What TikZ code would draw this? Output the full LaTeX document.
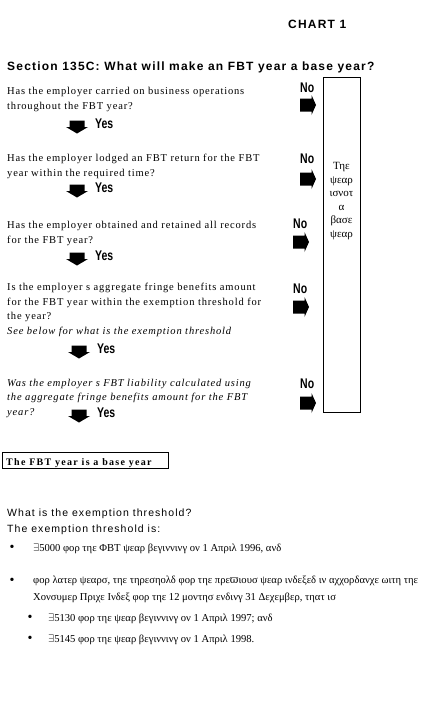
\documentclass[tikz,border=0pt]{standalone}
\usepackage{fontspec}
\setmainfont{Liberation Serif}
\newfontfamily\qfont[LetterSpace=8]{Liberation Serif}
\newfontfamily\hfont[LetterSpace=10]{Liberation Sans}
\newfontfamily\nfont[FakeStretch=0.75]{Liberation Sans}
\newfontfamily\gfont{Liberation Serif}
\newfontfamily\dvfont{DejaVu Serif}
\usetikzlibrary{positioning}

\begin{document}
\begin{tikzpicture}[x=1pt,y=-1pt,
  txt/.style={anchor=base west,inner sep=0pt,align=left},
  q/.style={txt,font=\qfont\fontsize{10.5}{14.5}\selectfont},
  hd/.style={txt,font=\hfont\bfseries\fontsize{12}{13}\selectfont},
  yn/.style={anchor=base west,inner sep=0pt,font=\nfont\bfseries\fontsize{14}{14}\selectfont},
  yesarrow/.pic={\fill (-7.5,-6.5) -- (7.5,-6.5) -- (7.5,0) -- (11,0) -- (0,6.5) -- (-11,0) -- (-7.5,0) -- cycle;},
  noarrow/.pic={\fill (-8,-6.5) -- (3.5,-6.5) -- (3.5,-10) -- (8,0) -- (3.5,10) -- (3.5,6.5) -- (-8,6.5) -- cycle;},
  gr/.style={txt,font=\gfont\fontsize{10.6}{16.5}\selectfont},
  dot/.style={inner sep=0pt,font=\fontsize{14}{14}\selectfont}]
\useasboundingbox (0,0) rectangle (423,702);
% headings
\node[hd] (chart) at (288,28) {CHART 1};
\node[hd] (title) at (7,70) {Section 135C: What will make an FBT year a base year?};
% questions
\node[q] (q1) at (7,109) {Has the employer carried on business operations\\throughout the FBT year?};
\node[q] (q2) at (7,176) {Has the employer lodged an FBT return for the FBT\\year within the required time?};
\node[q] (q3) at (7,243) {Has the employer obtained and retained all records\\for the FBT year?};
\node[q] (q4) at (7,334) {Is the employer s aggregate fringe benefits amount\\for the FBT year within the exemption threshold for\\the year?\\\itshape See below for what is the exemption threshold};
\node[q,font=\qfont\itshape\fontsize{10.5}{14.5}\selectfont] (q5) at (7,415) {Was the employer s FBT liability calculated using\\the aggregate fringe benefits amount for the FBT\\year?};
% yes arrows
\foreach \i/\x/\y in {1/77/127,2/77/191,3/77/259,4/79/352,5/79/416}{
  \pic (yes\i) at (\x,\y) {yesarrow};
  \node[yn] (yeslbl\i) at (\x+18,\y+1) {Yes};
}
% no arrows
\foreach \i/\x/\y/\ly in {1/300/105/92,2/300/179/163,3/293/242/228,4/293/307/293,5/300/403/388}{
  \pic (no\i) at (\x+8,\y) {noarrow};
  \node[yn] (nolbl\i) at (\x,\ly) {No};
}
\node[draw,line width=1pt,anchor=north west,minimum width=37pt,minimum height=335pt,inner sep=0pt] (notbase) at (323,77) {};
\node[font=\gfont\fontsize{11}{13.6}\selectfont,align=center,inner sep=0pt] (notbasetxt) at (341.5,201) {Τηε\\ψεαρ\\ισνοτ\\α\\βασε\\ψεαρ};
% result box
\node[draw,line width=.6pt,anchor=north west,minimum width=166pt,minimum height=16pt,inner sep=0pt] (basebox) at (2,452) {};
\draw[line width=1.6pt] (basebox.north east) -- (basebox.south east) -- (basebox.south west);
\node[txt,font=\qfont\bfseries\fontsize{10}{10}\selectfont\addfontfeature{LetterSpace=13}] (basetxt) at (6,465) {\underline{The FBT year is a base year}};
% threshold
\node[txt,font=\hfont\fontsize{10.5}{12}\selectfont] (whatis) at (7,516) {What is the exemption threshold?};
\node[txt,font=\hfont\fontsize{10.5}{12}\selectfont] (threshis) at (7,532) {The exemption threshold is:};
\node[dot] (b1) at (12,548) {\textbullet};
\node[gr] (b1txt) at (33,551) {$\exists$5000 φορ τηε ΦΒΤ ψεαρ βεγιννινγ ον 1 Απριλ 1996, ανδ};
\node[dot] (b2) at (12,581) {\textbullet};
\node[gr] (b2txt) at (33,600) {φορ λατερ ψεαρσ, τηε τηρεσηολδ φορ τηε πρε{\dvfont ϖ}ιουσ ψεαρ ινδεξεδ ιν αχχορδανχε ωιτη τηε\\Χονσυμερ Πριχε Ινδεξ φορ τηε 12 μοντησ ενδινγ 31 Δεχεμβερ, τηατ ισ};
\node[dot] (b3) at (30,618) {\textbullet};
\node[gr] (b3txt) at (48,621) {$\exists$5130 φορ τηε ψεαρ βεγιννινγ ον 1 Απριλ 1997; ανδ};
\node[dot] (b4) at (30,639) {\textbullet};
\node[gr] (b4txt) at (48,642) {$\exists$5145 φορ τηε ψεαρ βεγιννινγ ον 1 Απριλ 1998.};
\end{tikzpicture}
\end{document}
